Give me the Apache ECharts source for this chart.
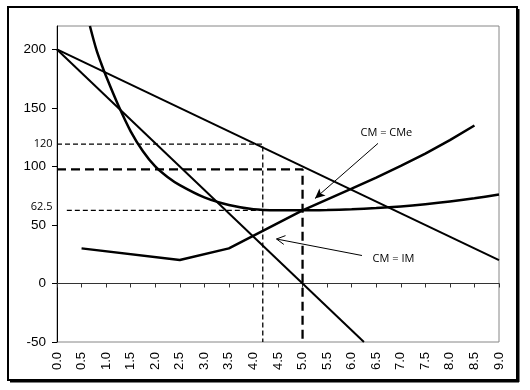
<!DOCTYPE html>
<html><head><meta charset="utf-8">
<script src="https://cdn.jsdelivr.net/npm/echarts@6/dist/echarts.min.js"></script>
<style>html,body{margin:0;padding:0;background:#fff}#c{width:530px;height:390px}</style>
</head><body><div id="c"></div>
<script>
// ---- data ----
const yTickValues = [-50, 0, 50, 100, 150, 200];
const demandPts = [[0, 200], [9, 20]];                 // demand line
const mrPts = [[0, 200], [6.25, -50]];                 // IM line
const acQ = [0.67, 0.8, 0.9, 1.0, 1.25, 1.5, 1.75, 2.0, 2.25, 2.5, 3.0, 3.5, 4.0, 4.5, 5.0, 5.5, 6.0, 6.5, 7.0, 7.5, 8.0, 8.5, 9.0];
const acV = [220, 200, 188, 177, 152, 130, 113, 100, 91, 84, 73.5, 67, 63.5, 62.6, 62.5, 62.8, 63.4, 64.4, 65.8, 67.7, 70, 72.8, 76];
const mcQ = [0.5, 2.5, 3.5, 5.0, 6.0, 6.5, 7.0, 7.5, 8.0, 8.5];
const mcV = [30, 20, 30, 62.5, 81, 90.5, 100.5, 111, 122.5, 135];
const refShortA = [[0, 119], [4.19, 119], [4.19, -50]];
const refLong = [[0, 97.5], [5, 97.5], [5, -50]];
const refShortB = [[0.2, 62.5], [5, 62.5]];
const labelTexts = ['120', '62.5', 'CM = CMe', 'CM = IM'];
const labelCoords = [[0, 119.4], [0, 65.8], [6.707, 129.1], [6.852, 21.4]];
const arrowCMe = [[6.536, 119.7], [5.253, 72.6]];
const arrowIM = [[6.21, 23.9], [4.47, 38.0]];
const arrowIMWings = [[[4.47, 38.0], [4.618, 33.4]], [[4.47, 38.0], [4.653, 40.9]]];

const zip = (a, b) => a.map((v, i) => [v, b[i]]);
const chart = echarts.init(document.getElementById('c'), null, {renderer: 'canvas'});

const solid = (w) => ({color: '#000', width: w, type: 'solid'});
const lineSeries = (data, style, extra) => Object.assign({
  type: 'line', data: data, symbol: 'none', lineStyle: style, silent: true,
  xAxisIndex: 0, yAxisIndex: 0, z: 3
}, extra || {});

const markLineData = [
  [{coord: arrowCMe[0], symbol: 'none'}, {coord: arrowCMe[1], symbol: 'arrow', symbolSize: [7, 10]}],
  [{coord: arrowIM[0]}, {coord: arrowIM[1]}],
  [{coord: arrowIMWings[0][0]}, {coord: arrowIMWings[0][1]}],
  [{coord: arrowIMWings[1][0]}, {coord: arrowIMWings[1][1]}]
];

const markPointData = labelTexts.map((t, i) => ({
  coord: labelCoords[i], value: t,
  label: {
    show: true, formatter: t,
    position: i < 2 ? 'left' : 'inside', distance: 4,
    fontFamily: 'Open Sans', fontSize: 11, color: '#000'
  }
}));

chart.setOption({
  animation: false,
  backgroundColor: '#fff',
  graphic: [
    {type: 'rect', shape: {x: 8, y: 7, width: 509, height: 373}, style: {fill: 'none', stroke: '#000', lineWidth: 2}, z: 100},
    {type: 'line', shape: {x1: 518.5, y1: 9, x2: 518.5, y2: 382}, style: {stroke: '#000', lineWidth: 2}, z: 100},
    {type: 'line', shape: {x1: 10, y1: 381.5, x2: 519, y2: 381.5}, style: {stroke: '#000', lineWidth: 2}, z: 100}
  ],
  grid: {left: 57, right: 31, top: 26, bottom: 48, show: true, borderColor: '#868686', borderWidth: 1, backgroundColor: '#fff'},
  xAxis: [
    {type: 'value', min: 0, max: 9, interval: 0.5, position: 'bottom',
      axisLine: {show: false, onZero: false}, axisTick: {show: false}, splitLine: {show: false},
      axisLabel: {rotate: 90, margin: 10, fontFamily: 'Liberation Sans', fontSize: 13, color: '#000',
        formatter: v => v.toFixed(1)}},
    {type: 'value', min: 0, max: 9, interval: 0.5, position: 'bottom',
      axisLine: {show: true, onZero: true, onZeroAxisIndex: 0, lineStyle: {color: '#333', width: 1}},
      axisTick: {show: true, length: 4, lineStyle: {color: '#333'}},
      axisLabel: {show: false}, splitLine: {show: false}}
  ],
  yAxis: {type: 'value', min: -50, max: 220, interval: 50,
    axisLine: {show: true, onZero: false, lineStyle: {color: '#000', width: 1}},
    axisTick: {show: true, length: 5, customValues: yTickValues, lineStyle: {color: '#000'}},
    axisLabel: {margin: 11, fontFamily: 'Liberation Sans', fontSize: 13.5, color: '#000', customValues: yTickValues},
    splitLine: {show: false}},
  series: [
    lineSeries(demandPts, solid(2), {
      markLine: {silent: true, symbol: 'none', label: {show: false}, lineStyle: {color: '#000', width: 1, type: 'solid'},
        emphasis: {disabled: true}, data: markLineData},
      markPoint: {symbol: 'circle', symbolSize: 1, itemStyle: {color: 'rgba(0,0,0,0)'}, silent: true, data: markPointData}
    }),
    lineSeries(mrPts, solid(2)),
    lineSeries(zip(acQ, acV), solid(2.5), {smooth: 0.3}),
    lineSeries(zip(mcQ, mcV), solid(2.5), {smooth: false}),
    lineSeries(refShortA, {color: '#000', width: 1.3, type: [5, 3]}, {z: 2}),
    lineSeries(refLong, {color: '#000', width: 2.3, type: [9, 5]}, {z: 2}),
    lineSeries(refShortB, {color: '#000', width: 1.3, type: [5, 3]}, {z: 2})
  ]
});
</script></body></html>
